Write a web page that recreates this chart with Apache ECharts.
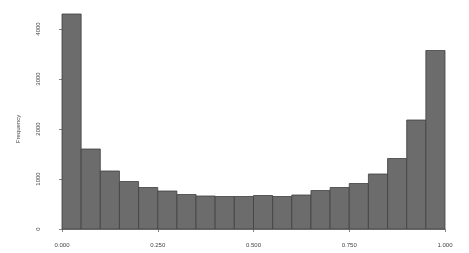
<!DOCTYPE html>
<html>
<head>
<meta charset="utf-8">
<script src="https://cdn.jsdelivr.net/npm/echarts@6/dist/echarts.min.js"></script>
<style>
  html, body { margin: 0; padding: 0; background: #fff; }
  #chart { width: 469px; height: 253px; }
</style>
</head>
<body>
<div id="chart"></div>
<script>
// histogram bins (left / right edges) and counts
const binLeft  = [0.00, 0.05, 0.10, 0.15, 0.20, 0.25, 0.30, 0.35, 0.40, 0.45,
                  0.50, 0.55, 0.60, 0.65, 0.70, 0.75, 0.80, 0.85, 0.90, 0.95];
const binRight = [0.05, 0.10, 0.15, 0.20, 0.25, 0.30, 0.35, 0.40, 0.45, 0.50,
                  0.55, 0.60, 0.65, 0.70, 0.75, 0.80, 0.85, 0.90, 0.95, 1.00];
const counts   = [4300, 1600, 1160, 950, 830, 760, 690, 660, 650, 650,
                  670, 650, 680, 770, 830, 910, 1100, 1410, 2180, 3570];
const xTicks = ['0.000', '0.250', '0.500', '0.750', '1.000'];

const myChart = echarts.init(document.getElementById('chart'));

const data = counts.map((c, i) => [binLeft[i], binRight[i], c]);

const option = {
  animation: false,
  grid: { left: 62, right: 24, top: 29, bottom: 24 },
  xAxis: {
    type: 'value',
    min: 0, max: 1, interval: 0.25,
    offset: 8,
    splitLine: { show: false },
    axisLine: { show: true, lineStyle: { color: '#666', width: 0.8 } },
    axisTick: { show: true, length: 3, lineStyle: { color: '#666', width: 0.8 } },
    axisLabel: {
      fontSize: 6, color: '#444', margin: 5, fontFamily: 'Liberation Sans',
      formatter: (v) => xTicks[Math.round(v / 0.25)]
    }
  },
  yAxis: {
    type: 'value',
    min: 0, max: 4000, interval: 1000,
    offset: 16,
    name: 'Frequency',
    nameLocation: 'middle',
    nameGap: 25,
    nameTextStyle: { fontSize: 6, color: '#444', fontFamily: 'Liberation Sans' },
    splitLine: { show: false },
    axisLine: { show: true, lineStyle: { color: '#666', width: 0.8 } },
    axisTick: { show: true, length: 3, lineStyle: { color: '#666', width: 0.8 } },
    axisLabel: {
      fontSize: 6, color: '#444', margin: 5, rotate: 90, fontFamily: 'Liberation Sans',
      formatter: (v) => String(v)
    }
  },
  series: [{
    type: 'custom',
    clip: false,
    data: data,
    renderItem: function (params, api) {
      const p0 = api.coord([api.value(0), api.value(2)]);
      const p1 = api.coord([api.value(1), 0]);
      return {
        type: 'rect',
        shape: { x: p0[0], y: p0[1], width: p1[0] - p0[0], height: p1[1] - p0[1] },
        style: { fill: '#6c6c6c', stroke: '#404040', lineWidth: 0.8 }
      };
    }
  }]
};

myChart.setOption(option);
</script>
</body>
</html>
